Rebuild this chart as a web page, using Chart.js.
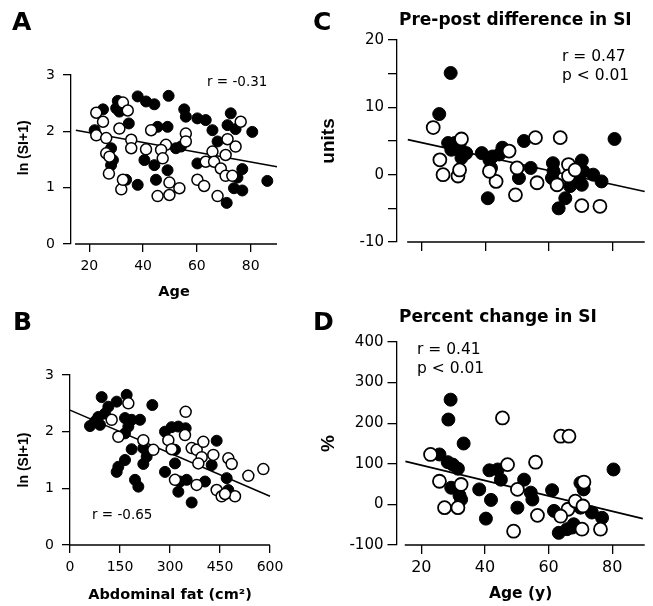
<!DOCTYPE html>
<html>
<head>
<meta charset="utf-8">
<script src="https://cdn.jsdelivr.net/npm/chart.js@4.4.0/dist/chart.umd.min.js"></script>
<style>
body { margin: 0; background: #fff; }
#fig { position: relative; width: 653px; height: 606px; overflow: hidden; background: #fff; color: #000; font-family: 'DejaVu Sans', sans-serif; }
#fig canvas { position: absolute; }
.txt { position: absolute; white-space: nowrap; line-height: 1; }
.letter { font-size: 25px; font-weight: bold; }
.note { font-size: 13.5px; }
.note2 { font-size: 15.5px; line-height: 18.5px; }
.head { font-size: 17px; font-weight: bold; }
</style>
</head>
<body>
<div id="fig">
  <canvas id="chartA" width="320" height="303" style="left:0px;top:0px"></canvas>
  <canvas id="chartB" width="320" height="303" style="left:0px;top:303px"></canvas>
  <canvas id="chartC" width="353" height="303" style="left:300px;top:0px"></canvas>
  <canvas id="chartD" width="353" height="303" style="left:300px;top:303px"></canvas>

  <div class="txt letter" style="left:12px;top:9px">A</div>
  <div class="txt letter" style="left:13px;top:309px">B</div>
  <div class="txt letter" style="left:313px;top:9px">C</div>
  <div class="txt letter" style="left:313px;top:309px">D</div>

  <div class="txt note" style="left:207px;top:75px">r = -0.31</div>
  <div class="txt note" style="left:92px;top:508px">r = -0.65</div>
  <div class="txt note2" style="left:562px;top:47px">r = 0.47<br>p &lt; 0.01</div>
  <div class="txt note2" style="left:417px;top:340px">r = 0.41<br>p &lt; 0.01</div>

  <div class="txt head" style="left:399px;top:11px">Pre-post difference in SI</div>
  <div class="txt head" style="left:399px;top:308px">Percent change in SI</div>
</div>
<script>
// A: ln(SI+1) vs age
var ageA_filled = [38.0, 41.1, 44.2, 49.5, 30.6, 30.0, 31.2, 25.1, 34.7, 55.3, 55.9, 60.2, 63.3, 72.6, 71.4, 74.4, 80.6, 65.8, 45.4, 49.1, 22.0, 52.2, 54.1, 67.7, 28.1, 28.8, 28.1, 40.5, 44.2, 60.2, 76.9, 75.1, 49.1, 38.0, 44.8, 86.2, 73.8, 76.9, 71.1, 33.7];
var siA_filled = [2.62, 2.53, 2.48, 2.63, 2.54, 2.41, 2.35, 2.39, 2.14, 2.39, 2.26, 2.23, 2.20, 2.32, 2.11, 2.04, 1.99, 2.02, 2.08, 2.08, 2.02, 1.70, 1.73, 1.82, 1.70, 1.49, 1.40, 1.49, 1.40, 1.43, 1.33, 1.18, 1.31, 1.05, 1.14, 1.12, 0.99, 0.95, 0.73, 1.14];
var ageA_open = [32.5, 34.3, 22.6, 25.1, 31.2, 76.3, 43.0, 55.9, 55.9, 22.6, 26.3, 35.6, 35.6, 41.1, 48.5, 71.4, 74.4, 26.3, 27.5, 27.3, 46.7, 47.3, 65.8, 70.7, 63.3, 66.4, 68.9, 70.7, 73.2, 31.9, 49.8, 53.5, 49.8, 45.4, 60.2, 62.7, 67.7, 32.5];
var siA_open = [2.51, 2.37, 2.33, 2.17, 2.05, 2.17, 2.02, 1.96, 1.82, 1.93, 1.88, 1.85, 1.70, 1.68, 1.76, 1.86, 1.73, 1.61, 1.55, 1.25, 1.67, 1.52, 1.64, 1.58, 1.46, 1.46, 1.34, 1.21, 1.21, 0.97, 1.09, 0.99, 0.87, 0.85, 1.14, 1.03, 0.85, 1.14];
var fitA_x = [15, 89.8];
var fitA_y = [2.02, 1.37];

// B: ln(SI+1) vs abdominal fat
var fatB_filled = [95, 170, 140, 115, 105, 85, 75, 60, 90, 247, 165, 185, 210, 175, 165, 285, 305, 325, 347, 440, 185, 220, 230, 220, 165, 145, 140, 195, 205, 285, 315, 315, 425, 330, 350, 405, 470, 475, 365, 325];
var siB_filled = [2.61, 2.65, 2.53, 2.44, 2.32, 2.26, 2.18, 2.10, 2.12, 2.47, 2.24, 2.21, 2.21, 2.09, 1.97, 2.00, 2.08, 2.09, 2.06, 1.84, 1.69, 1.71, 1.56, 1.43, 1.50, 1.38, 1.29, 1.15, 1.03, 1.29, 1.68, 1.44, 1.41, 1.12, 1.15, 1.12, 1.18, 0.97, 0.75, 0.94];
var fatB_open = [175, 125, 145, 220, 250, 347, 295, 345, 365, 380, 400, 395, 430, 385, 475, 485, 535, 580, 315, 380, 440, 455, 495, 465, 305];
var siB_open = [2.50, 2.21, 1.91, 1.85, 1.68, 2.35, 1.85, 1.94, 1.71, 1.68, 1.82, 1.55, 1.59, 1.44, 1.53, 1.43, 1.22, 1.34, 1.15, 1.06, 0.97, 0.86, 0.86, 0.90, 1.69];
var fitB_x = [0, 600];
var fitB_y = [2.38, 0.86];

// C: pre-post difference (units) vs age
var ageC_filled = [29.1, 25.5, 28.3, 30.4, 31.9, 29.3, 31.4, 34.0, 32.5, 38.9, 41.3, 42.3, 45.4, 44.4, 41.8, 40.8, 52.2, 50.6, 54.3, 80.7, 61.3, 61.5, 61.0, 70.4, 70.9, 69.3, 70.4, 66.7, 65.2, 63.1, 74.0, 76.6];
var diffC_filled = [15.1, 9.0, 4.7, 4.7, 4.5, 3.7, 3.7, 3.2, 2.5, 3.2, 2.2, 2.7, 4.0, 3.0, 1.0, -3.5, 5.0, -0.5, 1.0, 5.3, 1.7, 0.5, -0.5, 2.1, 0.5, -0.5, -1.5, -1.7, -3.5, -5.0, 0.0, -1.0];
var ageC_open = [23.6, 25.7, 32.5, 26.7, 31.4, 31.9, 47.5, 43.4, 41.3, 50.0, 49.5, 56.3, 55.8, 63.6, 66.2, 66.2, 68.3, 62.6, 70.4, 76.1];
var diffC_open = [7.0, 2.2, 5.3, 0.0, -0.2, 0.7, 3.5, -1.0, 0.5, 1.0, -3.0, -1.2, 5.5, 5.5, 1.5, -0.2, 0.7, -1.5, -4.6, -4.7];
var fitC_x = [15.6, 90.2];
var fitC_y = [5.2, -2.5];

// D: percent change vs age
var ageD_filled = [29.2, 28.5, 33.3, 25.7, 28.3, 29.9, 31.5, 29.4, 32.0, 32.5, 38.2, 41.4, 44.0, 45.0, 41.9, 40.3, 50.2, 52.3, 54.4, 54.9, 61.1, 61.7, 63.2, 65.8, 67.9, 70.0, 71.0, 70.0, 73.6, 76.8, 80.4, 67.4];
var pctD_filled = [258, 209, 150, 123, 104, 98, 88, 41, 22, 12, 37, 84, 86, 61, 11, -35, -8, 61, 29, 12, 35, -16, -70, -61, -49, 53, 37, -8, -20, -33, 86, -57];
var ageD_open = [22.9, 25.7, 27.3, 31.5, 32.5, 45.5, 47.1, 50.2, 55.9, 56.5, 49.0, 63.8, 66.4, 66.1, 68.4, 70.8, 71.1, 70.5, 76.3, 63.8];
var pctD_open = [123, 57, -8, -8, 49, 213, 98, 37, 104, -27, -66, 168, 168, -12, 8, -4, 55, -61, -61, -29];
var fitD_x = [15, 89.6];
var fitD_y = [106, -35];

// tick values
var ageTicks = [20, 40, 60, 80];
var fatTicks = [0, 150, 300, 450, 600];
var siTicks = [0, 1, 2, 3];
var diffTicks = [-10, -5, 0, 5, 10, 15, 20];
var pctTicks = [-100, 0, 100, 200, 300, 400];

Chart.defaults.font.family = "'DejaVu Sans', sans-serif";
Chart.defaults.color = '#000';

function toPoints(xs, ys) {
    return xs.map(function (x, i) {
        return { x: x, y: ys[i] };
    });
}

// x axis line drawn a little away from the y axis, like the original
var detachedAxis = {
    id: 'detachedAxis',
    afterDatasetsDraw: function (chart, args, opts) {
        var area = chart.chartArea;
        var ctx = chart.ctx;
        ctx.save();
        ctx.strokeStyle = '#000';
        ctx.lineWidth = 1.3;
        ctx.beginPath();
        ctx.moveTo(chart.scales.x.getPixelForValue(opts.from), area.bottom);
        ctx.lineTo(area.right, area.bottom);
        ctx.stroke();
        ctx.restore();
    }
};

function createPanel(chartId, p) {
    var ctx = document.getElementById(chartId).getContext('2d');
    return new Chart(ctx, {
        type: 'scatter',
        data: {
            datasets: [
                {
                    label: 'open',
                    data: toPoints(p.openX, p.openY),
                    pointRadius: p.radius,
                    pointBackgroundColor: '#fff',
                    pointBorderColor: '#000',
                    pointBorderWidth: p.ring,
                    clip: false
                },
                {
                    label: 'filled',
                    data: toPoints(p.fillX, p.fillY),
                    pointRadius: p.radius,
                    pointBackgroundColor: '#000',
                    pointBorderColor: '#000',
                    pointBorderWidth: 1,
                    clip: false
                },
                {
                    label: 'fit',
                    data: toPoints(p.fitX, p.fitY),
                    showLine: true,
                    borderColor: '#000',
                    borderWidth: 1.6,
                    pointRadius: 0,
                    clip: false
                }
            ]
        },
        options: {
            responsive: false,
            animation: false,
            devicePixelRatio: 1,
            layout: { padding: { left: 0, top: p.top, right: p.right, bottom: 0 } },
            plugins: {
                legend: { display: false },
                tooltip: { enabled: false },
                detachedAxis: { from: p.xFrom }
            },
            scales: {
                x: {
                    type: 'linear',
                    min: p.xMin,
                    max: p.xMax,
                    afterBuildTicks: function (s) { s.ticks = p.xTicks.map(function (v) { return { value: v }; }); },
                    afterFit: function (s) { s.height = p.xHeight; },
                    ticks: {
                        font: { size: p.xFont },
                        padding: p.xPad,
                        maxRotation: 0,
                        callback: function (v) { return p.xLabels ? String(v) : ''; }
                    },
                    grid: { drawOnChartArea: false, drawTicks: true, tickLength: p.tick, color: '#000', lineWidth: 1.3 },
                    border: { display: false },
                    title: {
                        display: !!p.xTitle,
                        text: p.xTitle,
                        color: '#000',
                        font: { size: p.xTitleFont, weight: 'bold' },
                        padding: { top: 0, bottom: p.xTitlePad }
                    }
                },
                y: {
                    type: 'linear',
                    min: p.yMin,
                    max: p.yMax,
                    afterBuildTicks: function (s) { s.ticks = p.yTicks.map(function (v) { return { value: v }; }); },
                    afterFit: function (s) { s.width = p.yWidth; },
                    ticks: {
                        font: { size: p.yFont },
                        padding: p.yPad,
                        callback: function (v) { return v % p.yLabelStep === 0 ? String(v) : ''; }
                    },
                    grid: { drawOnChartArea: false, drawTicks: true, tickLength: p.tick, color: '#000', lineWidth: 1.3 },
                    border: { display: true, color: '#000', width: 1.3 },
                    title: {
                        display: true,
                        text: p.yTitle,
                        color: '#000',
                        font: { family: "'Liberation Sans', Arial, sans-serif", size: p.yTitleFont, weight: 'bold' },
                        padding: { top: p.yTitlePad, bottom: 0 }
                    }
                }
            }
        },
        plugins: [detachedAxis]
    });
}

createPanel('chartA', {
    openX: ageA_open, openY: siA_open, fillX: ageA_filled, fillY: siA_filled, fitX: fitA_x, fitY: fitA_y,
    radius: 5.5, ring: 1.5, top: 75, right: 43,
    xMin: 13.2, xMax: 89.8, xTicks: ageTicks, xLabels: true, xFrom: 14.7, xHeight: 59, xFont: 14, xPad: 6,
    xTitle: 'Age', xTitleFont: 14.5, xTitlePad: 2,
    yMin: 0, yMax: 3, yTicks: siTicks, yLabelStep: 1, yWidth: 71, yFont: 14, yPad: 8,
    // leading spaces lift the label a little above the axis middle, as in the original
    yTitle: '      ln (SI+1)', yTitleFont: 14, yTitlePad: 16, tick: 8
});

createPanel('chartB', {
    openX: fatB_open, openY: siB_open, fillX: fatB_filled, fillY: siB_filled, fitX: fitB_x, fitY: fitB_y,
    radius: 5.5, ring: 1.5, top: 72, right: 50,
    xMin: 0, xMax: 600, xTicks: fatTicks, xLabels: true, xFrom: 0, xHeight: 61, xFont: 14, xPad: 6,
    xTitle: 'Abdominal fat (cm²)', xTitleFont: 14.5, xTitlePad: 2.5,
    yMin: 0, yMax: 3, yTicks: siTicks, yLabelStep: 1, yWidth: 70, yFont: 14, yPad: 8,
    yTitle: 'ln (SI+1)', yTitleFont: 14, yTitlePad: 16, tick: 8
});

createPanel('chartC', {
    openX: ageC_open, openY: diffC_open, fillX: ageC_filled, fillY: diffC_filled, fitX: fitC_x, fitY: fitC_y,
    radius: 6.5, ring: 1.8, top: 40, right: 6,
    xMin: 12.2, xMax: 90.2, xTicks: ageTicks, xLabels: false, xFrom: 15.4, xHeight: 61, xFont: 16, xPad: 4,
    xTitle: '', xTitleFont: 15.5, xTitlePad: 3,
    yMin: -10, yMax: 20, yTicks: diffTicks, yLabelStep: 10, yWidth: 97, yFont: 15, yPad: 4,
    yTitle: 'units', yTitleFont: 19, yTitlePad: 17, tick: 9
});

createPanel('chartD', {
    openX: ageD_open, openY: pctD_open, fillX: ageD_filled, fillY: pctD_filled, fitX: fitD_x, fitY: fitD_y,
    radius: 6.5, ring: 1.8, top: 39, right: 6,
    xMin: 12.2, xMax: 90.2, xTicks: ageTicks, xLabels: true, xFrom: 14.8, xHeight: 61, xFont: 16, xPad: 4,
    xTitle: 'Age (y)', xTitleFont: 15.5, xTitlePad: 3,
    yMin: -100, yMax: 400, yTicks: pctTicks, yLabelStep: 100, yWidth: 96.5, yFont: 15, yPad: 4,
    yTitle: '%', yTitleFont: 19, yTitlePad: 17, tick: 9
});
</script>
</body>
</html>
